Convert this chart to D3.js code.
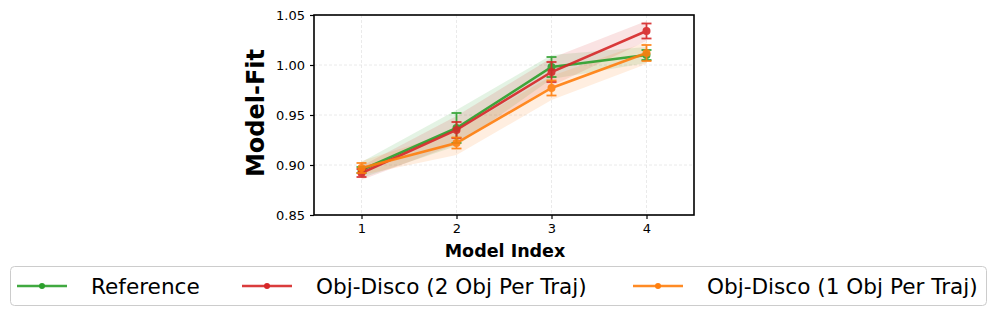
<!DOCTYPE html>
<html>
<head>
<meta charset="utf-8">
<script src="https://cdn.jsdelivr.net/npm/d3@7"></script>
<style>
  body { margin: 0; background: #fff; }
  svg { display: block; font-family: "DejaVu Sans", sans-serif; }
</style>
</head>
<body>
<svg id="chart" width="997" height="316"></svg>
<script>
// -------- Data --------
const modelIndex = [1, 2, 3, 4];
const yTicks = [0.85, 0.90, 0.95, 1.00, 1.05];

const refMean = [0.895, 0.937, 0.998, 1.010];
const refErr  = [0.003, 0.015, 0.010, 0.005];
const refBand = [0.008, 0.018, 0.012, 0.008];

const twoObjMean = [0.892, 0.935, 0.993, 1.034];
const twoObjErr  = [0.004, 0.008, 0.010, 0.0075];
const twoObjBand = [0.007, 0.014, 0.014, 0.010];

const oneObjMean = [0.897, 0.922, 0.977, 1.012];
const oneObjErr  = [0.005, 0.0055, 0.0075, 0.008];
const oneObjBand = [0.007, 0.012, 0.012, 0.011];

const series = [
  { name: "Reference", color: "#2ca02c", mean: refMean, err: refErr, band: refBand },
  { name: "Obj-Disco (2 Obj Per Traj)", color: "#d62728", mean: twoObjMean, err: twoObjErr, band: twoObjBand },
  { name: "Obj-Disco (1 Obj Per Traj)", color: "#ff7f0e", mean: oneObjMean, err: oneObjErr, band: oneObjBand },
];

// -------- Layout --------
const svg = d3.select("#chart");
const plot = { left: 314, right: 694, top: 15, bottom: 215 };

const x = d3.scaleLinear().domain([0.5, 4.5]).range([plot.left, plot.right]);
const y = d3.scaleLinear().domain([0.85, 1.05]).range([plot.bottom, plot.top]);

// Grid
const grid = svg.append("g");
grid.selectAll("line.gx").data(modelIndex).join("line")
  .attr("x1", d => x(d)).attr("x2", d => x(d))
  .attr("y1", plot.top).attr("y2", plot.bottom)
  .attr("stroke", "#e4e4e4").attr("stroke-width", 0.8).attr("stroke-dasharray", "3,2");
grid.selectAll("line.gy").data(yTicks).join("line")
  .attr("x1", plot.left).attr("x2", plot.right)
  .attr("y1", d => y(d)).attr("y2", d => y(d))
  .attr("stroke", "#e4e4e4").attr("stroke-width", 0.8).attr("stroke-dasharray", "3,2");

// Bands
const area = d3.area()
  .x((d, i) => x(modelIndex[i]))
  .y0(d => y(d[0]))
  .y1(d => y(d[1]));

series.forEach(s => {
  const pts = s.mean.map((m, i) => [m - s.band[i], m + s.band[i]]);
  svg.append("path")
    .attr("d", area(pts))
    .attr("fill", s.color)
    .attr("fill-opacity", 0.13);
});

// Lines, error bars, markers
const line = d3.line().x((d, i) => x(modelIndex[i])).y(d => y(d));

series.forEach(s => {
  const g = svg.append("g").attr("opacity", 0.9);
  g.append("path")
    .attr("d", line(s.mean))
    .attr("fill", "none")
    .attr("stroke", s.color)
    .attr("stroke-width", 2.5);

  const eb = g.selectAll("g.eb").data(s.mean).join("g");
  eb.append("line")
    .attr("x1", (d, i) => x(modelIndex[i])).attr("x2", (d, i) => x(modelIndex[i]))
    .attr("y1", (d, i) => y(d - s.err[i])).attr("y2", (d, i) => y(d + s.err[i]))
    .attr("stroke", s.color).attr("stroke-width", 1.8);
  [-1, 1].forEach(sign => {
    eb.append("line")
      .attr("x1", (d, i) => x(modelIndex[i]) - 5).attr("x2", (d, i) => x(modelIndex[i]) + 5)
      .attr("y1", (d, i) => y(d + sign * s.err[i])).attr("y2", (d, i) => y(d + sign * s.err[i]))
      .attr("stroke", s.color).attr("stroke-width", 1.8);
  });

  g.selectAll("circle").data(s.mean).join("circle")
    .attr("cx", (d, i) => x(modelIndex[i]))
    .attr("cy", d => y(d))
    .attr("r", 4)
    .attr("fill", s.color);
});

// Axes
const xAxis = svg.append("g")
  .attr("transform", `translate(0,${plot.bottom})`)
  .call(d3.axisBottom(x).tickValues(modelIndex).tickFormat(d3.format("d")).tickSize(4).tickPadding(5));
const yAxis = svg.append("g")
  .attr("transform", `translate(${plot.left},0)`)
  .call(d3.axisLeft(y).tickValues(yTicks).tickFormat(d3.format(".2f")).tickSize(4).tickPadding(5));

[xAxis, yAxis].forEach(a => {
  a.select(".domain").remove();
  a.selectAll(".tick line").attr("stroke", "#000").attr("stroke-width", 1.2);
  a.selectAll(".tick text")
    .attr("fill", "#000")
    .style("font-size", "13px")
    .style("font-family", "DejaVu Sans");
});

// Frame
svg.append("rect")
  .attr("x", plot.left).attr("y", plot.top)
  .attr("width", plot.right - plot.left).attr("height", plot.bottom - plot.top)
  .attr("fill", "none").attr("stroke", "#000").attr("stroke-width", 1.6);

// Axis labels
svg.append("text")
  .attr("x", 505).attr("y", 257)
  .attr("text-anchor", "middle")
  .style("font-size", "17.5px").style("font-weight", "bold")
  .text("Model Index");

svg.append("text")
  .attr("transform", `translate(264,113) rotate(-90)`)
  .attr("text-anchor", "middle")
  .style("font-size", "24px").style("font-weight", "bold")
  .text("Model-Fit");

// Legend
const legend = svg.append("g");
legend.append("rect")
  .attr("x", 10.5).attr("y", 266.5)
  .attr("width", 976).attr("height", 39)
  .attr("rx", 4)
  .attr("fill", "#fff").attr("stroke", "#cccccc").attr("stroke-width", 1);

const legendX = [17, 242, 633];
series.forEach((s, i) => {
  const lg = legend.append("g").attr("transform", `translate(${legendX[i]},286)`);
  lg.append("line").attr("x1", 0).attr("x2", 50).attr("y1", 0).attr("y2", 0)
    .attr("stroke", s.color).attr("stroke-width", 2.5).attr("opacity", 0.9);
  lg.append("circle").attr("cx", 25).attr("cy", 0).attr("r", 3).attr("fill", s.color);
  lg.append("text")
    .attr("x", 74).attr("y", 7.5)
    .style("font-size", "21.6px")
    .text(s.name);
});
</script>
</body>
</html>
